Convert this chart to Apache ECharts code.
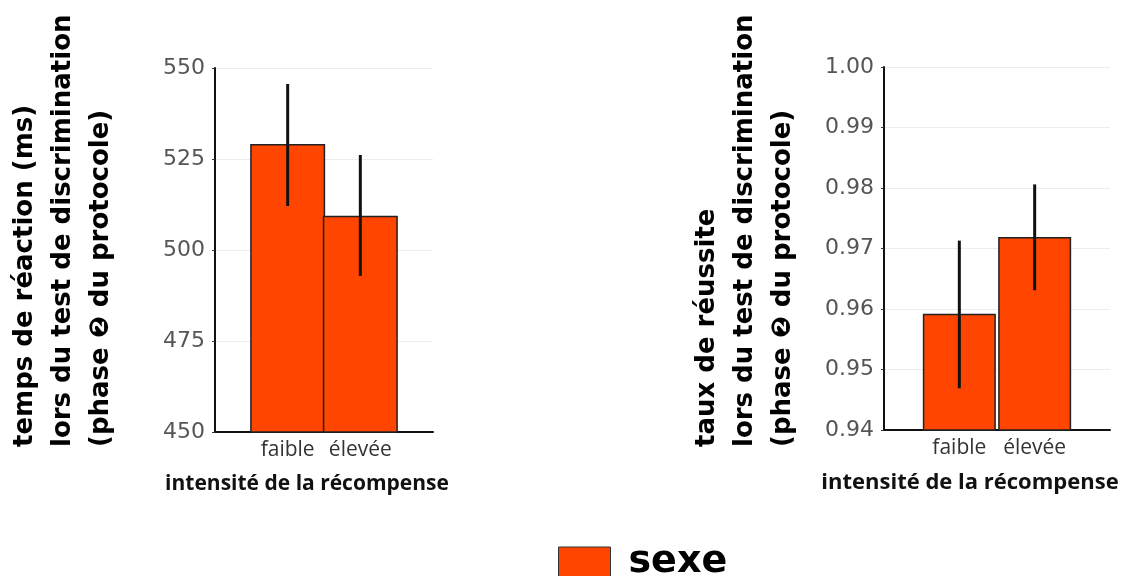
<!DOCTYPE html>
<html>
<head>
<meta charset="utf-8">
<script src="https://cdn.jsdelivr.net/npm/echarts@6/dist/echarts.min.js"></script>
<style>
html,body{margin:0;padding:0;background:#fff;}
#c{width:1132px;height:576px;}
</style>
</head>
<body>
<div id="c"></div>
<script>
// ---- data ----
const categories = ['faible', 'élevée'];
const reactionMean = [529.1, 509.4];
const reactionLow = [512.1, 492.9];
const reactionHigh = [545.6, 526.1];
const successMean = [0.9592, 0.9719];
const successLow = [0.9469, 0.9631];
const successHigh = [0.9713, 0.9806];
const reactionTicks = [450, 475, 500, 525, 550];
const successTicks = [0.94, 0.95, 0.96, 0.97, 0.98, 0.99, 1.00];

// padded category axis so bars sit at 1/3 and 2/3 of the axis
const paddedCats = [''].concat(categories, ['']);
function padded(arr) { return ['-'].concat(arr, ['-']); }
function errData(low, high) { return low.map((l, i) => [i + 1, l, high[i]]); }

const BAR = '#ff4500';
const TICKFONT = '"DejaVu Sans", sans-serif';

function errRender(params, api) {
  const x = api.value(0);
  const p1 = api.coord([x, api.value(1)]);
  const p2 = api.coord([x, api.value(2)]);
  return { type: 'line', shape: { x1: p1[0], y1: p1[1], x2: p2[0], y2: p2[1] },
           style: { stroke: '#111', lineWidth: 3 } };
}

function xAxisCfg(gridIndex, padRight, nameSize) {
  return {
    type: 'category', gridIndex: gridIndex, data: paddedCats, boundaryGap: false,
    axisLine: { show: true, lineStyle: { color: '#111', width: 2 } },
    axisTick: { show: false },
    splitLine: { show: false },
    axisLabel: { interval: 0, margin: 8, color: '#333', fontSize: 21, fontFamily: '"Open Sans", sans-serif' },
    name: 'intensité de la récompense', nameLocation: 'middle', nameGap: 42,
    nameTextStyle: { fontWeight: 'bold', fontSize: nameSize, color: '#111',
                     fontFamily: '"Open Sans", sans-serif', padding: [0, padRight, 0, 0] }
  };
}

function yAxisCfg(gridIndex, min, max, interval, fmt) {
  return {
    type: 'value', gridIndex: gridIndex, min: min, max: max, interval: interval,
    axisLine: { show: true, lineStyle: { color: '#111', width: 2 } },
    axisTick: { show: true, length: 3, lineStyle: { color: '#333' } },
    splitLine: { show: true, lineStyle: { color: '#ececec', width: 1 } },
    axisLabel: { margin: 10, color: '#555', fontSize: 22, fontFamily: TICKFONT, formatter: fmt }
  };
}

const chart = echarts.init(document.getElementById('c'));
chart.setOption({
  backgroundColor: '#ffffff',
  animation: false,
  grid: [
    { left: 215, right: 1132 - 433, top: 68, bottom: 576 - 432, outerBoundsMode: 'none' },
    { left: 884, right: 1132 - 1110, top: 67, bottom: 576 - 430, outerBoundsMode: 'none' }
  ],
  xAxis: [ xAxisCfg(0, 34, 21), xAxisCfg(1, 54, 22) ],
  yAxis: [
    yAxisCfg(0, 450, 550, 25, v => String(v)),
    yAxisCfg(1, 0.94, 1.00, 0.01, v => Number(v).toFixed(2))
  ],
  legend: {
    data: ['sexe'], left: 553, top: 538, icon: 'rect', itemWidth: 52, itemHeight: 30,
    itemStyle: { borderColor: '#333', borderWidth: 1 },
    textStyle: { fontSize: 38, fontWeight: 'bold', color: '#000', fontFamily: '"DejaVu Sans", sans-serif',
                 padding: [0, 0, 0, 13] }
  },
  series: [
    { name: 'sexe', type: 'bar', xAxisIndex: 0, yAxisIndex: 0, data: padded(reactionMean), barWidth: 75,
      itemStyle: { color: BAR, borderColor: '#222', borderWidth: 1.5 } },
    { name: 'sexe', type: 'bar', xAxisIndex: 1, yAxisIndex: 1, data: padded(successMean), barWidth: 73,
      itemStyle: { color: BAR, borderColor: '#222', borderWidth: 1.5 } },
    { type: 'custom', xAxisIndex: 0, yAxisIndex: 0, data: errData(reactionLow, reactionHigh),
      renderItem: errRender, z: 5, silent: true },
    { type: 'custom', xAxisIndex: 1, yAxisIndex: 1, data: errData(successLow, successHigh),
      renderItem: errRender, z: 5, silent: true }
  ],
  graphic: [
    { type: 'text', x: 6, y: 447, rotation: Math.PI / 2,
      style: { text: 'temps de réaction (ms)\nlors du test de discrimination\n(phase ❷ du protocole)',
               font: 'bold 26px "DejaVu Sans", sans-serif', fill: '#000', lineHeight: 38,
               textAlign: 'left', textVerticalAlign: 'top' } },
    { type: 'text', x: 688, y: 447, rotation: Math.PI / 2,
      style: { text: 'taux de réussite\nlors du test de discrimination\n(phase ❷ du protocole)',
               font: 'bold 26px "DejaVu Sans", sans-serif', fill: '#000', lineHeight: 38,
               textAlign: 'left', textVerticalAlign: 'top' } }
  ]
});
</script>
</body>
</html>
